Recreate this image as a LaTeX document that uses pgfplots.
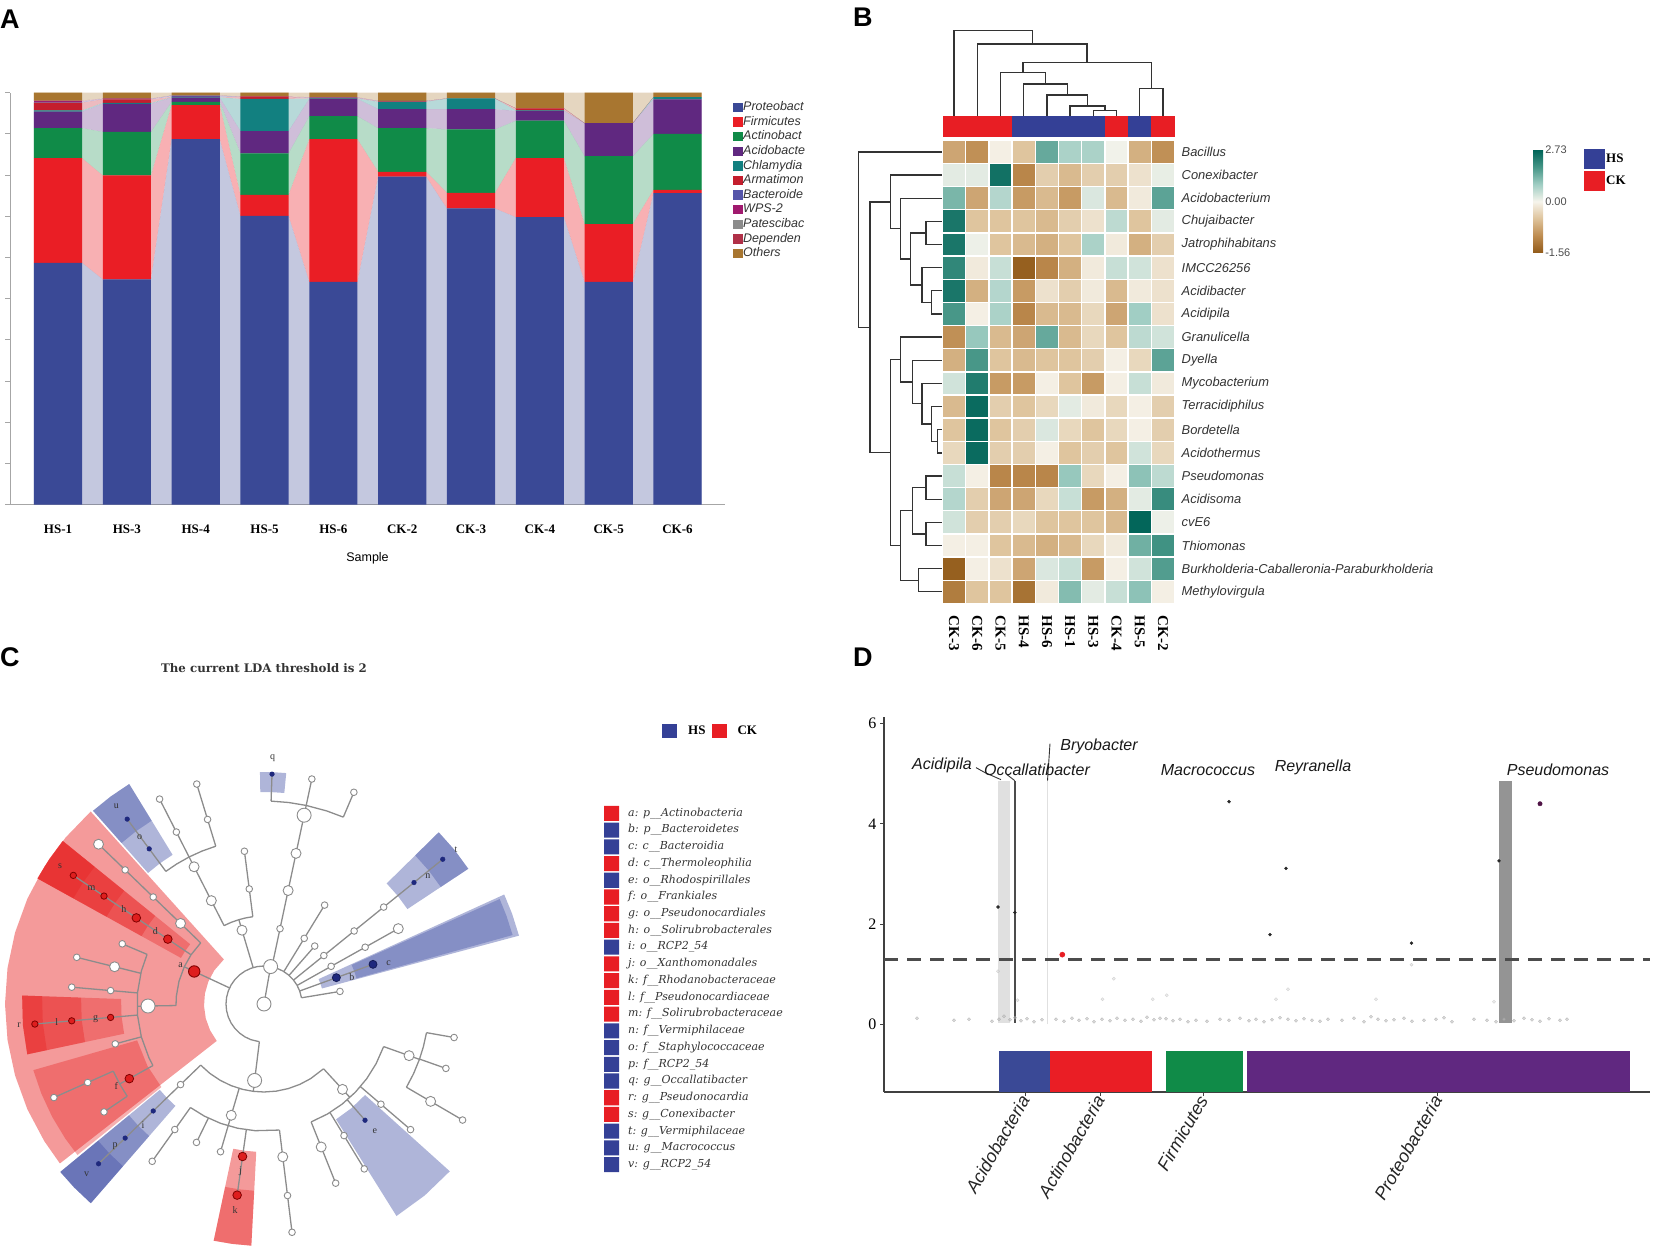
\documentclass[border=0pt]{standalone}
\usepackage{fontspec}
\usepackage{pgfplots}
\usepackage{pgfplotstable}
\pgfplotsset{compat=1.18}
\setmainfont{Liberation Serif}
\setsansfont{Liberation Sans}
\newfontfamily\lsans{Liberation Sans}
\newfontfamily\lserif{Liberation Serif}
\newfontfamily\dserif{DejaVu Serif}
\newcommand\fs[1]{\fontsize{#1}{#1}\selectfont}

\definecolor{cP}{RGB}{58,73,150}
\definecolor{cF}{RGB}{234,30,37}
\definecolor{cA}{RGB}{16,139,72}
\definecolor{cAc}{RGB}{96,40,128}
\definecolor{cCh}{RGB}{18,128,128}
\definecolor{cAr}{RGB}{196,30,45}
\definecolor{cB}{RGB}{85,85,170}
\definecolor{cW}{RGB}{160,25,110}
\definecolor{cPa}{RGB}{140,140,140}
\definecolor{cD}{RGB}{176,48,72}
\definecolor{cO}{RGB}{168,118,48}
\definecolor{hsblue}{RGB}{52,64,150}
\definecolor{ckred}{RGB}{232,30,36}
\definecolor{wred}{RGB}{230,30,30}
\definecolor{wblue}{RGB}{55,70,160}
\definecolor{treeg}{RGB}{140,140,140}
\definecolor{nred}{RGB}{222,30,30}
\definecolor{nblue}{RGB}{30,40,125}

\pgfplotsset{
  treeline/.style={data cs=polar, draw=treeg, line width=1.3pt, forget plot},
  dend/.style={draw=black!80, line width=1.3pt, forget plot},
  redbase/.style={data cs=polar, fill=wred, fill opacity=0.45, draw=none, forget plot},
  redsec/.style={data cs=polar, fill=wred, fill opacity=0.35, draw=none, forget plot},
  bluebase/.style={data cs=polar, fill=wblue, fill opacity=0.4, draw=none, forget plot},
  bluesec/.style={data cs=polar, fill=wblue, fill opacity=0.35, draw=none, forget plot},
}

% Panel A: relative abundance (%) per sample
\pgfplotstableread{
i P F A Ac Ch Ar B W Pa D O
1 58.7 25.4 7.3 4.0 0.3 1.9 0.2 0.1 0.1 0.1 1.9
2 54.7 25.2 10.6 6.8 0.2 0.9 0.1 0.0 0.0 0.1 1.4
3 88.7 8.3 0.8 1.0 0.1 0.1 0.3 0.0 0.0 0.0 0.7
4 70.1 5.1 10.1 5.4 7.8 0.5 0.0 0.0 0.0 0.1 0.9
5 54.1 34.6 5.6 4.2 0.1 0.1 0.1 0.0 0.0 0.1 1.1
6 79.6 1.2 10.6 4.6 1.8 0.1 0.1 0.0 0.0 0.0 2.0
7 71.9 3.8 15.4 4.9 2.6 0.0 0.0 0.0 0.0 0.0 1.4
8 69.8 14.3 9.1 2.4 0.1 0.5 0.0 0.0 0.0 0.0 3.8
9 54.1 14.0 16.5 8.0 0.0 0.0 0.0 0.0 0.0 0.0 7.4
10 75.6 0.8 13.6 8.4 0.5 0.0 0.0 0.0 0.0 0.0 1.1
}\phyla

% same values at both bar edges, for the connecting bands
\pgfplotstableread{
x P F A Ac Ch Ar B W Pa D O
0.65 58.7 25.4 7.3 4.0 0.3 1.9 0.2 0.1 0.1 0.1 1.9
1.35 58.7 25.4 7.3 4.0 0.3 1.9 0.2 0.1 0.1 0.1 1.9
1.65 54.7 25.2 10.6 6.8 0.2 0.9 0.1 0.0 0.0 0.1 1.4
2.35 54.7 25.2 10.6 6.8 0.2 0.9 0.1 0.0 0.0 0.1 1.4
2.65 88.7 8.3 0.8 1.0 0.1 0.1 0.3 0.0 0.0 0.0 0.7
3.35 88.7 8.3 0.8 1.0 0.1 0.1 0.3 0.0 0.0 0.0 0.7
3.65 70.1 5.1 10.1 5.4 7.8 0.5 0.0 0.0 0.0 0.1 0.9
4.35 70.1 5.1 10.1 5.4 7.8 0.5 0.0 0.0 0.0 0.1 0.9
4.65 54.1 34.6 5.6 4.2 0.1 0.1 0.1 0.0 0.0 0.1 1.1
5.35 54.1 34.6 5.6 4.2 0.1 0.1 0.1 0.0 0.0 0.1 1.1
5.65 79.6 1.2 10.6 4.6 1.8 0.1 0.1 0.0 0.0 0.0 2.0
6.35 79.6 1.2 10.6 4.6 1.8 0.1 0.1 0.0 0.0 0.0 2.0
6.65 71.9 3.8 15.4 4.9 2.6 0.0 0.0 0.0 0.0 0.0 1.4
7.35 71.9 3.8 15.4 4.9 2.6 0.0 0.0 0.0 0.0 0.0 1.4
7.65 69.8 14.3 9.1 2.4 0.1 0.5 0.0 0.0 0.0 0.0 3.8
8.35 69.8 14.3 9.1 2.4 0.1 0.5 0.0 0.0 0.0 0.0 3.8
8.65 54.1 14.0 16.5 8.0 0.0 0.0 0.0 0.0 0.0 0.0 7.4
9.35 54.1 14.0 16.5 8.0 0.0 0.0 0.0 0.0 0.0 0.0 7.4
9.65 75.6 0.8 13.6 8.4 0.5 0.0 0.0 0.0 0.0 0.0 1.1
10.35 75.6 0.8 13.6 8.4 0.5 0.0 0.0 0.0 0.0 0.0 1.1
}\flows

% Panel B: z-scores, rows = genera, columns CK-3 CK-6 CK-5 HS-4 HS-6 HS-1 HS-3 CK-4 HS-5 CK-2
\pgfplotstableread{
c0 c1 c2 c3 c4 c5 c6 c7 c8 c9
-0.8 -1.0 -0.05 -0.5 1.5 0.8 0.8 0.05 -0.7 -1.0
0.2 0.2 2.5 -1.1 -0.4 -0.6 -0.4 -0.4 -0.2 0.15
1.3 -0.8 0.7 -0.9 -0.6 -0.9 0.3 -0.6 -0.1 1.6
2.4 -0.5 -0.5 -0.5 -0.6 -0.4 -0.2 0.6 -0.5 0.2
2.4 0.1 -0.5 -0.6 -0.7 -0.5 0.8 -0.1 -0.7 -0.4
2.1 -0.1 0.5 -1.5 -1.1 -0.7 -0.1 0.5 0.4 -0.2
2.4 -0.7 0.7 -0.9 -0.2 -0.4 -0.1 -0.6 -0.1 -0.2
1.8 -0.05 0.8 -1.1 -0.6 -0.6 -0.3 -0.8 0.9 -0.2
-1.0 1.0 -0.6 -0.8 1.5 -0.6 -0.3 -0.5 0.6 0.4
-0.7 1.8 -0.5 -0.6 -0.5 -0.5 -0.4 -0.05 -0.3 1.6
0.4 2.3 -0.9 -0.9 -0.05 -0.5 -0.9 -0.05 0.5 -0.1
-0.6 2.6 -0.4 -0.5 -0.3 0.2 -0.1 -0.3 -0.05 -0.4
-0.5 2.6 -0.5 -0.4 0.3 -0.3 -0.5 -0.3 -0.05 -0.4
-0.3 2.6 -0.4 -0.4 -0.05 -0.5 -0.4 -0.5 0.4 -0.3
0.5 -0.05 -1.1 -1.1 -1.1 1.0 -0.3 -0.05 1.1 0.6
0.7 -0.4 -0.8 -0.8 -0.3 0.5 -0.9 -0.7 0.2 2.0
0.4 -0.4 -0.4 -0.3 -0.5 -0.5 -0.5 -0.6 2.7 0.1
-0.05 -0.05 -0.5 -0.6 -0.7 -0.6 -0.3 -0.1 1.4 1.9
-1.5 -0.05 -0.2 -0.8 0.3 0.5 -0.9 -0.05 0.4 1.7
-1.2 -0.5 -0.5 -1.3 -0.1 1.2 0.2 0.5 1.1 -0.05
}\heat

\begin{document}
\begin{tikzpicture}[x=1pt,y=1pt]
\path[use as bounding box] (0,0) rectangle (1654,1253);

%================= PANEL A =================
\begin{axis}[at={(10pt,748.3pt)}, anchor=south west, scale only axis,
  width=715pt, height=412pt, xmin=0.302, xmax=10.69, ymin=0, ymax=100,
  stack plots=y,
  axis x line*=bottom, axis y line*=left,
  axis line style={draw=black!35, line width=1pt},
  xtick={1,...,10}, xticklabels={HS-1,HS-3,HS-4,HS-5,HS-6,CK-2,CK-3,CK-4,CK-5,CK-6},
  xticklabel style={font=\lserif\bfseries\fs{13}, anchor=north, inner sep=0pt, yshift=-15pt},
  ytick={0,10,...,100}, yticklabels={},
  xtick style={draw=none}, ytick style={draw=black!35, line width=1pt},
  tick align=outside, major tick length=5pt,
  xlabel={Sample}, xlabel style={font=\lsans\fs{12.5}, at={(axis description cs:0.5,-0.13)}, anchor=center},
]
\addplot[fill=cP, fill opacity=0.3, draw=none] table[x=x,y=P]{\flows} \closedcycle;
\addplot[fill=cF, fill opacity=0.35, draw=none] table[x=x,y=F]{\flows} \closedcycle;
\addplot[fill=cA, fill opacity=0.3, draw=none] table[x=x,y=A]{\flows} \closedcycle;
\addplot[fill=cAc, fill opacity=0.3, draw=none] table[x=x,y=Ac]{\flows} \closedcycle;
\addplot[fill=cCh, fill opacity=0.3, draw=none] table[x=x,y=Ch]{\flows} \closedcycle;
\addplot[fill=cAr, fill opacity=0.3, draw=none] table[x=x,y=Ar]{\flows} \closedcycle;
\addplot[fill=cB, fill opacity=0.3, draw=none] table[x=x,y=B]{\flows} \closedcycle;
\addplot[fill=cW, fill opacity=0.3, draw=none] table[x=x,y=W]{\flows} \closedcycle;
\addplot[fill=cPa, fill opacity=0.3, draw=none] table[x=x,y=Pa]{\flows} \closedcycle;
\addplot[fill=cD, fill opacity=0.3, draw=none] table[x=x,y=D]{\flows} \closedcycle;
\addplot[fill=cO, fill opacity=0.3, draw=none] table[x=x,y=O]{\flows} \closedcycle;
\end{axis}

\begin{axis}[at={(10pt,748.3pt)}, anchor=south west, scale only axis,
  width=715pt, height=412pt, xmin=0.302, xmax=10.69, ymin=0, ymax=100,
  hide axis, ybar stacked, bar width=0.70,
  legend style={at={(axis description cs:1.0112,0.98)}, anchor=north west, draw=none, fill=none,
    inner sep=0pt, row sep=1.9pt, font=\lsans\itshape\fs{12.5}, text=black!80,
    nodes={inner sep=0.6pt, text height=9pt, text depth=2.5pt},
    /tikz/every even column/.append style={column sep=3.5pt}},
  legend cell align=left,
  legend image code/.code={\fill[#1] (0pt,-4.7pt) rectangle (9.4pt,4.7pt);},
]
\addplot[fill=cP, draw=none] table[x=i,y=P]{\phyla};
\addplot[fill=cF, draw=none] table[x=i,y=F]{\phyla};
\addplot[fill=cA, draw=none] table[x=i,y=A]{\phyla};
\addplot[fill=cAc, draw=none] table[x=i,y=Ac]{\phyla};
\addplot[fill=cCh, draw=none] table[x=i,y=Ch]{\phyla};
\addplot[fill=cAr, draw=none] table[x=i,y=Ar]{\phyla};
\addplot[fill=cB, draw=none] table[x=i,y=B]{\phyla};
\addplot[fill=cW, draw=none] table[x=i,y=W]{\phyla};
\addplot[fill=cPa, draw=none] table[x=i,y=Pa]{\phyla};
\addplot[fill=cD, draw=none] table[x=i,y=D]{\phyla};
\addplot[fill=cO, draw=none] table[x=i,y=O]{\phyla};
\legend{Proteobact,Firmicutes,Actinobact,Acidobacte,Chlamydia,Armatimon,Bacteroide,WPS-2,Patescibac,Dependen,Others}
\end{axis}

%================= PANEL B =================
\begin{axis}[at={(942.5pt,649.6pt)}, anchor=south west, scale only axis,
  width=232pt, height=463.1pt, xmin=-0.5, xmax=9.5, ymin=-0.5, ymax=19.5,
  y dir=reverse, clip=false,
  axis line style={draw=none}, tick style={draw=none}, major tick length=0pt,
  xtick={0,...,9}, xticklabels={CK-3,CK-6,CK-5,HS-4,HS-6,HS-1,HS-3,CK-4,HS-5,CK-2},
  xticklabel style={yshift=-12pt, rotate=-90, anchor=west, inner sep=0pt, font=\lserif\bfseries\fs{15}},
  ytick={0,...,19},
  yticklabels={Bacillus,Conexibacter,Acidobacterium,Chujaibacter,Jatrophihabitans,IMCC26256,Acidibacter,Acidipila,Granulicella,Dyella,Mycobacterium,Terracidiphilus,Bordetella,Acidothermus,Pseudomonas,Acidisoma,cvE6,Thiomonas,Burkholderia-Caballeronia-Paraburkholderia,Methylovirgula},
  yticklabel pos=right,
  yticklabel style={anchor=west, inner sep=0pt, xshift=7pt, font=\lsans\itshape\fs{12.9}, text=black!80},
  colormap={heat}{rgb255=(145,90,25) rgb255=(190,140,80) rgb255=(222,195,155) rgb255=(246,244,236) rgb255=(160,205,195) rgb255=(70,150,135) rgb255=(0,100,88)},
  point meta min=-1, point meta max=1,
  colorbar,
  colorbar style={at={(parent axis.north east)}, anchor=north west, xshift=350pt, yshift=-9.7pt,
    scale only axis, width=10pt, height=103pt, ytick={-1,0,1}, yticklabels={-1.56,0.00,2.73},
    yticklabel style={font=\lsans\fs{11}, text=black!70, inner sep=2pt},
    axis line style={draw=none}, tick style={draw=none}, major tick length=0pt},
  legend style={at={(axis description cs:2.765,0.981)}, anchor=north west, draw=none, fill=none,
    row sep=2pt, inner sep=0pt, font=\lserif\bfseries\fs{13},
    nodes={inner sep=1pt}, /tikz/every even column/.append style={column sep=4pt}},
  legend cell align=left,
  legend image code/.code={\fill[#1] (0pt,-10pt) rectangle (21pt,10pt);},
]
\addlegendimage{fill=hsblue, draw=none}
\addlegendentry{HS}
\addlegendimage{fill=ckred, draw=none}
\addlegendentry{CK}
\pgfplotsinvokeforeach{0,...,9}{
  \addplot[scatter, only marks, mark=square*, mark size=11.6pt, forget plot,
    scatter/use mapped color={draw=white, fill=mapped color}, mark options={line width=1.4pt},
    point meta={ifthenelse(\thisrow{c#1}<0,\thisrow{c#1}/1.56,\thisrow{c#1}/2.73)}]
    table[x expr=#1, y expr=\coordindex]{\heat};
}
% group annotation bar
\addplot[fill=ckred, draw=none, forget plot] coordinates {(-0.5,-1.55)(2.5,-1.55)(2.5,-0.64)(-0.5,-0.64)};
\addplot[fill=hsblue, draw=none, forget plot] coordinates {(2.5,-1.55)(6.5,-1.55)(6.5,-0.64)(2.5,-0.64)};
\addplot[fill=ckred, draw=none, forget plot] coordinates {(6.5,-1.55)(7.5,-1.55)(7.5,-0.64)(6.5,-0.64)};
\addplot[fill=hsblue, draw=none, forget plot] coordinates {(7.5,-1.55)(8.5,-1.55)(8.5,-0.64)(7.5,-0.64)};
\addplot[fill=ckred, draw=none, forget plot] coordinates {(8.5,-1.55)(9.5,-1.55)(9.5,-0.64)(8.5,-0.64)};
% column dendrogram
\addplot[dend] coordinates {(6,-1.55)(6,-1.78)(7,-1.78)(7,-1.55)};
\addplot[dend] coordinates {(5,-1.55)(5,-1.98)(6.5,-1.98)(6.5,-1.78)};
\addplot[dend] coordinates {(4,-1.55)(4,-2.46)(5.75,-2.46)(5.75,-1.98)};
\addplot[dend] coordinates {(3,-1.55)(3,-2.93)(4.875,-2.93)(4.875,-2.46)};
\addplot[dend] coordinates {(2,-1.55)(2,-3.42)(3.94,-3.42)(3.94,-2.93)};
\addplot[dend] coordinates {(8,-1.55)(8,-2.73)(9,-2.73)(9,-1.55)};
\addplot[dend] coordinates {(2.97,-3.42)(2.97,-3.85)(8.5,-3.85)(8.5,-2.73)};
\addplot[dend] coordinates {(1,-1.55)(1,-4.66)(5.73,-4.66)(5.73,-3.85)};
\addplot[dend] coordinates {(0,-1.55)(0,-5.25)(3.37,-5.25)(3.37,-4.66)};
% row dendrogram
\addplot[dend] coordinates {(-0.5,6)(-0.97,6)(-0.97,7)(-0.5,7)};
\addplot[dend] coordinates {(-0.5,5)(-1.38,5)(-1.38,6.5)(-0.97,6.5)};
\addplot[dend] coordinates {(-0.5,3)(-1.21,3)(-1.21,4)(-0.5,4)};
\addplot[dend] coordinates {(-1.21,3.5)(-1.87,3.5)(-1.87,5.75)(-1.38,5.75)};
\addplot[dend] coordinates {(-0.5,2)(-2.31,2)(-2.31,4.625)(-1.87,4.625)};
\addplot[dend] coordinates {(-0.5,1)(-2.74,1)(-2.74,3.31)(-2.31,3.31)};
\addplot[dend] coordinates {(-0.5,12)(-0.72,12)(-0.72,13)(-0.5,13)};
\addplot[dend] coordinates {(-0.5,11)(-0.97,11)(-0.97,12.5)(-0.72,12.5)};
\addplot[dend] coordinates {(-0.5,10)(-1.38,10)(-1.38,11.75)(-0.97,11.75)};
\addplot[dend] coordinates {(-0.5,9)(-1.79,9)(-1.79,10.875)(-1.38,10.875)};
\addplot[dend] coordinates {(-0.5,8)(-2.31,8)(-2.31,9.94)(-1.79,9.94)};
\addplot[dend] coordinates {(-0.5,14)(-1.21,14)(-1.21,15)(-0.5,15)};
\addplot[dend] coordinates {(-0.5,16)(-1.21,16)(-1.21,17)(-0.5,17)};
\addplot[dend] coordinates {(-1.21,14.5)(-1.79,14.5)(-1.79,16.5)(-1.21,16.5)};
\addplot[dend] coordinates {(-0.5,18)(-1.54,18)(-1.54,19)(-0.5,19)};
\addplot[dend] coordinates {(-1.79,15.5)(-2.31,15.5)(-2.31,18.5)(-1.54,18.5)};
\addplot[dend] coordinates {(-2.31,8.97)(-2.74,8.97)(-2.74,17)(-2.31,17)};
\addplot[dend] coordinates {(-2.74,2.16)(-3.63,2.16)(-3.63,12.98)(-2.74,12.98)};
\addplot[dend] coordinates {(-0.5,0)(-4.13,0)(-4.13,7.57)(-3.63,7.57)};
\end{axis}

%================= PANEL C (cladogram) =================
\begin{axis}[at={(-6pt,-21pt)}, anchor=south west, scale only axis,
  width=540pt, height=540pt, xmin=-270, xmax=270, ymin=-270, ymax=270,
  hide axis, clip=false,
  legend style={at={(axis description cs:1.237,1.0185)}, anchor=north west, draw=none, fill=none,
    inner sep=0pt, font=\lserif\bfseries\fs{13}, nodes={inner sep=1pt},
    /tikz/every even column/.append style={column sep=5pt},
    /tikz/every odd column/.append style={column sep=10pt}},
  legend columns=2,
  legend image code/.code={\fill[#1] (0pt,-7pt) rectangle (15pt,7pt);},
]
\addlegendimage{fill=hsblue, draw=none}
\addlegendentry{HS}
\addlegendimage{fill=ckred, draw=none}
\addlegendentry{CK}
% shaded clades
\addplot[redbase] coordinates {(132,259)(140,259)(148,259)(156,259)(164,259)(172,259)(180,259)(188,259)(196,259)(204,259)(212,259)(218,259)(218,60)(206,60)(194,60)(182,60)(170,60)(158,60)(146,60)(132,60)};
\addplot[redsec] coordinates {(141,95)(141,259)(146,259)(151,259)(151,95)(146,95)};
\addplot[redsec] coordinates {(141,140)(141,259)(146,259)(151,259)(151,140)(146,140)};
\addplot[redsec] coordinates {(141,180)(141,259)(146,259)(151,259)(151,180)(146,180)};
\addplot[redsec] coordinates {(141,218)(141,259)(146,259)(151,259)(151,218)(146,218)};
\addplot[redsec] coordinates {(178,143)(178,242)(185,242)(192,242)(192,143)(185,143)};
\addplot[redsec] coordinates {(178,183)(178,242)(185,242)(192,242)(192,183)(185,183)};
\addplot[redsec] coordinates {(178,222)(178,242)(185,242)(192,242)(192,222)(185,222)};
\addplot[redsec] coordinates {(196,132)(196,240)(202,240)(208,240)(214,240)(219,240)(219,132)(208,132)};
\addplot[redbase] coordinates {(258,148)(258,242)(262.5,242)(267,242)(267,148)(262.5,148)};
\addplot[redsec] coordinates {(258,187)(258,242)(262.5,242)(267,242)(267,187)(262.5,187)};
\addplot[bluebase] coordinates {(15,60)(15,264)(20,264)(24.5,264)(24.5,60)(20,60)};
\addplot[bluesec] coordinates {(15.5,96)(15.5,258)(20,258)(24,258)(24,96)(20,96)};
\addplot[bluebase] coordinates {(302,136)(302,250)(310,250)(318,250)(318,136)(310,136)};
\addplot[bluebase] coordinates {(219.5,135)(219.5,264)(224,264)(229,264)(229,135)(224,135)};
\addplot[bluesec] coordinates {(219.5,175)(219.5,264)(224,264)(229,264)(229,175)(224,175)};
\addplot[bluesec] coordinates {(219.5,215)(219.5,264)(224,264)(229,264)(229,215)(224,215)};
\addplot[bluebase] coordinates {(121.5,175)(121.5,258)(126.5,258)(131.5,258)(131.5,175)(126.5,175)};
\addplot[bluesec] coordinates {(121.5,215)(121.5,258)(126.5,258)(131.5,258)(131.5,215)(126.5,215)};
\addplot[bluebase] coordinates {(33.5,172)(33.5,245)(39,245)(44.5,245)(44.5,172)(39,172)};
\addplot[bluesec] coordinates {(33.5,212)(33.5,245)(39,245)(44.5,245)(44.5,212)(39,212)};
\addplot[bluebase] coordinates {(84.5,212)(84.5,232)(88,232)(91,232)(91,212)(88,212)};
% tree
\addplot[treeline] coordinates {(80,0)(80,38)};
\addplot[treeline] coordinates {(9.4,38)(20,38)(30,38)(40,38)(50,38)(60,38)(70,38)(80,38)(90,38)(100,38)(110,38)(120,38)(130,38)(140,38)(150,38)(160,38)(170,38)(180,38)(190,38)(200,38)(210,38)(220,38)(230,38)(240,38)(250,38)(263,38)};
\addplot[treeline] coordinates {(9.4,38)(9.4,77)};
\addplot[treeline] coordinates {(20,38)(20,116)};
\addplot[treeline] coordinates {(29.3,38)(29.3,154)};
\addplot[treeline] coordinates {(39,38)(39,230)};
\addplot[treeline] coordinates {(48.8,38)(48.8,77)};
\addplot[treeline] coordinates {(58.5,38)(58.5,116)};
\addplot[treeline] coordinates {(78,38)(78,203)};
\addplot[treeline] coordinates {(106.6,38)(106.6,88)};
\addplot[treeline] coordinates {(155,38)(155,88)};
\addplot[treeline] coordinates {(263,38)(263,88)};
% Actinobacteria
\addplot[treeline] coordinates {(136,88)(146,88)(155,88)(165,88)(175,88)(181,88)};
\addplot[treeline] coordinates {(136,88)(136,230)};
\addplot[treeline] coordinates {(146,88)(146,230)};
\addplot[treeline] coordinates {(181,88)(181,127)};
\addplot[treeline] coordinates {(157,127)(165,127)(175,127)(185,127)(195,127)(205,127)(209,127)};
\addplot[treeline] coordinates {(157,127)(157,154)};
\addplot[treeline] coordinates {(166,127)(166,193)};
\addplot[treeline] coordinates {(175,127)(175,193)};
\addplot[treeline] coordinates {(185,127)(185,230)};
\addplot[treeline] coordinates {(195,127)(195,154)};
\addplot[treeline] coordinates {(209,127)(209,165)};
\addplot[treeline] coordinates {(204,165)(209,165)(214,165)};
\addplot[treeline] coordinates {(204,165)(204,230)};
\addplot[treeline] coordinates {(214,165)(214,193)};
% top clade at 78
\addplot[treeline] coordinates {(67,203)(72,203)(78,203)(83,203)(88,203)};
\addplot[treeline] coordinates {(67,203)(67,230)};
\addplot[treeline] coordinates {(78,203)(78,230)};
\addplot[treeline] coordinates {(88,203)(88,230)};
% Firmicutes
\addplot[treeline] coordinates {(97.3,88)(102,88)(106.6,88)(112,88)(117,88)};
\addplot[treeline] coordinates {(97.3,88)(97.3,154)};
\addplot[treeline] coordinates {(117,88)(117,165)};
\addplot[treeline] coordinates {(107,165)(112,165)(117,165)(122,165)(126.5,165)};
\addplot[treeline] coordinates {(107,165)(107,230)};
\addplot[treeline] coordinates {(117,165)(117,230)};
\addplot[treeline] coordinates {(126.5,165)(126.5,230)};
% Proteobacteria
\addplot[treeline] coordinates {(224,88)(232,88)(240,88)(248,88)(256,88)(263,88)(270,88)(278,88)(286,88)(294,88)(302,88)(312.6,88)};
\addplot[treeline] coordinates {(224,88)(224,230)};
\addplot[treeline] coordinates {(253.6,88)(253.6,127)};
\addplot[treeline] coordinates {(234.6,127)(242,127)(250,127)(258,127)(266,127)(277,127)};
\addplot[treeline] coordinates {(234.6,127)(234.6,193)};
\addplot[treeline] coordinates {(244,127)(244,154)};
\addplot[treeline] coordinates {(253.6,127)(253.6,154)};
\addplot[treeline] coordinates {(262,127)(262,193)};
\addplot[treeline] coordinates {(277,127)(277,230)};
\addplot[treeline] coordinates {(312.6,88)(312.6,127)};
\addplot[treeline] coordinates {(291.8,127)(300,127)(308,127)(316,127)(324,127)(332,127)(340.4,127)};
\addplot[treeline] coordinates {(291.8,127)(291.8,193)};
\addplot[treeline] coordinates {(301.3,127)(301.3,193)};
\addplot[treeline] coordinates {(311,127)(311,154)};
\addplot[treeline] coordinates {(319.4,127)(319.4,193)};
\addplot[treeline] coordinates {(340.4,127)(340.4,165)};
\addplot[treeline] coordinates {(329.7,165)(335,165)(340.4,165)(345,165)(350,165)};
\addplot[treeline] coordinates {(329.7,165)(329.7,230)};
\addplot[treeline] coordinates {(340.5,165)(340.5,193)};
\addplot[treeline] coordinates {(350,165)(350,193)};
% nodes
\addplot[data cs=polar, only marks, mark=*, mark size=7pt, mark options={fill=white, draw=black!45, line width=0.9pt}, forget plot]
  coordinates {(0,0)(80,38)(263,77)(181,116)(78,193)};
\addplot[data cs=polar, only marks, mark=*, mark size=5pt, mark options={fill=white, draw=black!45, line width=0.9pt}, forget plot]
  coordinates {(136,116)(166,154)(136,230)(117,116)(117,154)(253.6,116)(312.6,116)(277,154)(291.8,154)(340.4,154)(329.7,193)(29.3,154)(78,116)(78,154)(106.6,77)};
\addplot[data cs=polar, only marks, mark=*, mark size=3.3pt, mark options={fill=white, draw=black!45, line width=0.9pt}, forget plot]
  coordinates {(136,154)(136,193)(157,154)(166,193)(175,154)(175,193)(195,154)(204,193)(204,230)(214,193)(67,230)(78,230)(78,77)(97.3,116)(97.3,154)(107,193)(107,230)(117,193)(117,230)(58.5,77)(58.5,116)(48.8,77)(39,77)(39,116)(39,154)(29.3,77)(29.3,116)(9.4,77)(224,116)(234.6,154)(234.6,193)(244,154)(253.6,154)(277,193)(277,230)(291.8,193)(301.3,154)(301.3,193)(319.4,154)(319.4,193)(329.7,230)(340.5,193)(350,193)};
\addplot[data cs=polar, only marks, mark=*, mark size=5.7pt, mark options={fill=nred, draw=red!50!black, line width=0.9pt}, forget plot]
  coordinates {(155,77)};
\addplot[data cs=polar, only marks, mark=*, mark size=4.3pt, mark options={fill=nred, draw=red!50!black, line width=0.8pt}, forget plot]
  coordinates {(146,116)(146,154)(209,154)(262,154)(262,193)};
\addplot[data cs=polar, only marks, mark=*, mark size=3.2pt, mark options={fill=nred, draw=red!50!black, line width=0.8pt}, forget plot]
  coordinates {(146,193)(146,230)(185,154)(185,193)(185,230)};
\addplot[data cs=polar, only marks, mark=*, mark size=4pt, mark options={fill=nblue, draw=nblue!70!black, line width=0.8pt}, forget plot]
  coordinates {(20,77)(20,116)};
\addplot[data cs=polar, only marks, mark=*, mark size=2.3pt, mark options={fill=nblue, draw=nblue, line width=0.5pt}, forget plot]
  coordinates {(311,154)(224,154)(224,193)(224,230)(39,193)(39,230)(88,230)(126.5,193)(126.5,230)};
% clade letters
\begin{scope}[every node/.style={font=\lserif\fs{10}, text=black!80, inner sep=0pt}]
\node at (axis cs:{92*cos(155)},{92*sin(155)}) {a};
\node at (axis cs:{92*cos(17)},{92*sin(17)}) {b};
\node at (axis cs:{131*cos(18)},{131*sin(18)}) {c};
\node at (axis cs:{131*cos(146)},{131*sin(146)}) {d};
\node at (axis cs:{169*cos(311)},{169*sin(311)}) {e};
\node at (axis cs:{169*cos(209)},{169*sin(209)}) {f};
\node at (axis cs:{169*cos(185)},{169*sin(185)}) {g};
\node at (axis cs:{169*cos(146)},{169*sin(146)}) {h};
\node at (axis cs:{171*cos(225)},{171*sin(225)}) {i};
\node at (axis cs:{169*cos(262)},{169*sin(262)}) {j};
\node at (axis cs:{208*cos(262)},{208*sin(262)}) {k};
\node at (axis cs:{208*cos(185)},{208*sin(185)}) {l};
\node at (axis cs:{208*cos(146)},{208*sin(146)}) {m};
\node at (axis cs:{208*cos(38)},{208*sin(38)}) {n};
\node at (axis cs:{208*cos(126.7)},{208*sin(126.7)}) {o};
\node at (axis cs:{206*cos(223.7)},{206*sin(223.7)}) {p};
\node at (axis cs:{246*cos(88)},{246*sin(88)}) {q};
\node at (axis cs:{246*cos(185)},{246*sin(185)}) {r};
\node at (axis cs:{246*cos(146)},{246*sin(146)}) {s};
\node at (axis cs:{246*cos(38.7)},{246*sin(38.7)}) {t};
\node at (axis cs:{247*cos(126.7)},{247*sin(126.7)}) {u};
\node at (axis cs:{246*cos(223.9)},{246*sin(223.9)}) {v};
\end{scope}
\end{axis}

% clade key
\begin{axis}[at={(604pt,80pt)}, anchor=south west, scale only axis,
  width=15pt, height=368pt, xmin=0, xmax=1, ymin=0.5, ymax=22.5, y dir=reverse,
  axis line style={draw=none}, tick style={draw=none}, major tick length=0pt,
  xtick=\empty, ytick={1,...,22}, yticklabel pos=right,
  yticklabels={a: p\_\_Actinobacteria, b: p\_\_Bacteroidetes, c: c\_\_Bacteroidia, d: c\_\_Thermoleophilia, e: o\_\_Rhodospirillales, f: o\_\_Frankiales, g: o\_\_Pseudonocardiales, h: o\_\_Solirubrobacterales, i: o\_\_RCP2\_54, j: o\_\_Xanthomonadales, k: f\_\_Rhodanobacteraceae, l: f\_\_Pseudonocardiaceae, m: f\_\_Solirubrobacteraceae, n: f\_\_Vermiphilaceae, o: f\_\_Staphylococcaceae, p: f\_\_RCP2\_54, q: g\_\_Occallatibacter, r: g\_\_Pseudonocardia, s: g\_\_Conexibacter, t: g\_\_Vermiphilaceae, u: g\_\_Macrococcus, v: g\_\_RCP2\_54},
  yticklabel style={anchor=west, inner sep=0pt, xshift=9pt, font=\dserif\itshape\fs{11}, text=black!80},
  xbar, bar width=0.9, bar shift=0pt,
]
\addplot[fill=ckred, draw=none] coordinates {(1,1)(1,4)(1,6)(1,7)(1,8)(1,10)(1,11)(1,12)(1,13)(1,18)(1,19)};
\addplot[fill=hsblue, draw=none] coordinates {(1,2)(1,3)(1,5)(1,9)(1,14)(1,15)(1,16)(1,17)(1,20)(1,21)(1,22)};
\end{axis}

%================= PANEL D =================
\begin{axis}[at={(884pt,161pt)}, anchor=south west, scale only axis,
  width=766pt, height=375pt, xmin=0, xmax=766, ymin=-1.35, ymax=6.13, clip=false,
  axis x line*=bottom, axis y line*=left,
  axis line style={draw=black!75, line width=1.3pt},
  tick style={draw=black!75, line width=1pt}, tick align=outside, major tick length=4pt,
  xtick={141.4,216.3,319.7,553.9},
  xticklabels={Acidobacteria,Actinobacteria,Firmicutes,Proteobacteria},
  xticklabel style={rotate=60, anchor=east, inner sep=1pt, font=\lsans\itshape\fs{18}, text=black!85},
  ytick={0,2,4,6}, yticklabel style={font=\lserif\fs{16}},
  /pgf/number format/assume math mode=true,
]
% phylum strip
\addplot[fill=cP, draw=none] coordinates {(115,-1.35)(115,-0.53)(165.6,-0.53)(165.6,-1.35)};
\addplot[fill=cF, draw=none] coordinates {(165.6,-1.35)(165.6,-0.53)(268,-0.53)(268,-1.35)};
\addplot[fill=cA, draw=none] coordinates {(281.7,-1.35)(281.7,-0.53)(358.7,-0.53)(358.7,-1.35)};
\addplot[fill=cAc, draw=none] coordinates {(363,-1.35)(363,-0.53)(746,-0.53)(746,-1.35)};
% highlighted genera
\addplot[fill=black!12, draw=none] coordinates {(114,0.03)(114,4.86)(125.6,4.86)(125.6,0.03)};
\addplot[fill=black!42, draw=none] coordinates {(615,0.03)(615,4.86)(627.7,4.86)(627.7,0.03)};
\addplot[draw=black!70, line width=1.6pt] coordinates {(130.8,0.03)(130.8,4.86)};
\addplot[draw=black!12, line width=1pt] coordinates {(163.5,0.0)(163.5,4.86)};
\addplot[draw=black!80, line width=0.9pt] coordinates {(92,5.12)(101,5.02)(117,4.88)};
\addplot[draw=black!80, line width=0.9pt] coordinates {(123,4.98)(130.8,4.86)};
\addplot[draw=black!80, line width=0.9pt] coordinates {(166,5.6)(163.5,4.86)};
% background taxa
\addplot[only marks, mark=*, mark size=1.6pt, draw=black!40, fill=black!25, opacity=0.55] coordinates {
(33,0.12)(70,0.08)(85,0.1)(108,0.06)(115,0.1)(120,0.16)(126,0.09)(131,0.13)(137,0.07)(143,0.11)(150,0.05)(158,0.09)(172,0.1)(180,0.06)(188,0.12)(195,0.08)(203,0.11)(210,0.05)(218,0.1)(226,0.07)(233,0.12)(241,0.08)(249,0.1)(257,0.06)(263,0.14)(270,0.09)(276,0.12)(282,0.11)(289,0.07)(296,0.1)(304,0.05)(312,0.08)(323,0.06)(336,0.1)(345,0.08)(356,0.12)(365,0.07)(372,0.1)(380,0.05)(388,0.09)(396,0.13)(404,0.1)(412,0.07)(420,0.11)(428,0.08)(436,0.06)(444,0.1)(458,0.08)(470,0.12)(480,0.05)(487,0.15)(494,0.1)(502,0.07)(510,0.09)(520,0.12)(528,0.06)(540,0.08)(552,0.1)(560,0.13)(568,0.05)(590,0.1)(603,0.08)(612,0.05)(620,0.1)(630,0.07)(640,0.12)(648,0.09)(656,0.06)(665,0.11)(676,0.08)(683,0.1)};
\addplot[only marks, mark=*, mark size=1.6pt, draw=black!30, fill=black!15, opacity=0.5] coordinates {
(114,1.06)(229.8,0.91)(218.6,0.5)(268.7,0.5)(282.7,0.58)(392,0.5)(404,0.7)(492,0.5)(527.5,1.19)(133.4,0.48)(610,0.45)};
% significant taxa
\addplot[only marks, mark=*, mark size=1.5pt, black!85] coordinates {(114,2.34)(130.8,2.23)(345,4.44)(402,3.11)(386,1.79)(527.5,1.62)(615,3.26)};
\addplot[only marks, mark=*, mark size=2.6pt, color=ckred] coordinates {(178.3,1.39)};
\addplot[only marks, mark=*, mark size=2.2pt, color={rgb,255:red,80;green,20;blue,70}] coordinates {(656,4.40)};
% threshold
\addplot[draw=black!70, line width=3pt, dash pattern=on 14pt off 9pt] coordinates {(0,1.301)(766,1.301)};
\begin{scope}[every node/.style={font=\lsans\itshape\fs{16}, text=black!90, inner sep=0pt}]
\node at (axis cs:58,5.17) {Acidipila};
\node at (axis cs:153,5.07) {Occallatibacter};
\node at (axis cs:215,5.55) {Bryobacter};
\node at (axis cs:324,5.07) {Macrococcus};
\node at (axis cs:429,5.13) {Reyranella};
\node at (axis cs:674,5.07) {Pseudomonas};
\end{scope}
\end{axis}

% titles and panel letters
\node[font=\dserif\bfseries\fs{11.8}, text=black!80] at (264pt,585pt) {The current LDA threshold is 2};
\node[anchor=base west, inner sep=0pt, font=\lsans\bfseries\fs{27}] at (0pt,1224pt) {A};
\node[anchor=base west, inner sep=0pt, font=\lsans\bfseries\fs{27}] at (853pt,1226pt) {B};
\node[anchor=base west, inner sep=0pt, font=\lsans\bfseries\fs{27}] at (0pt,586pt) {C};
\node[anchor=base west, inner sep=0pt, font=\lsans\bfseries\fs{27}] at (853pt,586pt) {D};
\end{tikzpicture}
\end{document}
